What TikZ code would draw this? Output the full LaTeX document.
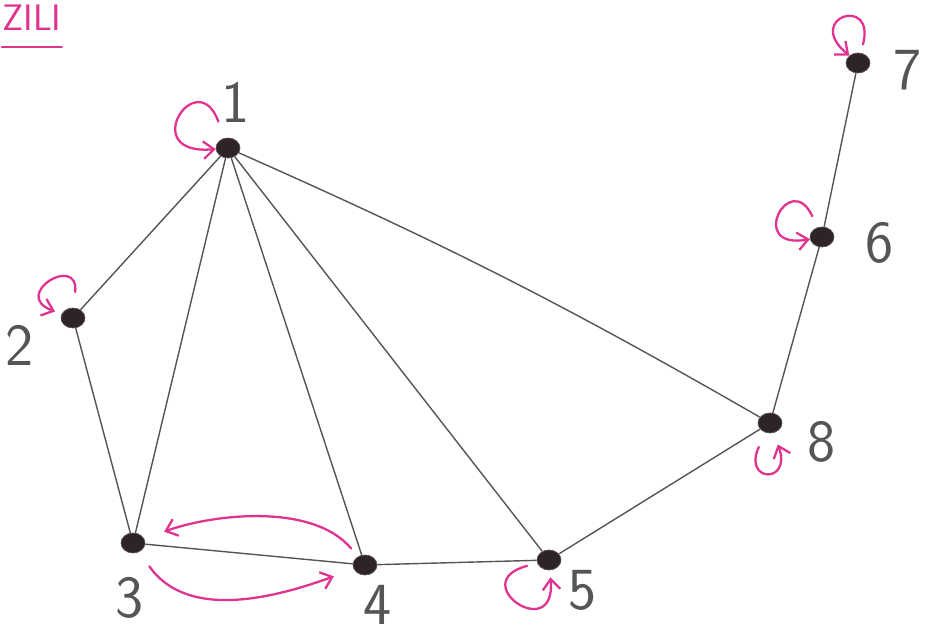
\documentclass[tikz,border=0pt]{standalone}
\definecolor{ziliPink}{HTML}{E0338F}
\definecolor{ziliInk}{HTML}{2E2428}
\definecolor{ziliPencil}{HTML}{555555}
\usepackage{tikz}
\usetikzlibrary{
	arrows.meta,
	shapes.geometric
}

\begin{document}
\begin{tikzpicture}[x=0.02cm, y=0.02cm,
		vertex/.style={ellipse, fill=ziliInk, draw=ziliInk!80, minimum width=0.48cm, minimum height=0.4cm, inner sep=0pt},
		num/.style={text=ziliPencil, inner sep=0pt, font=\sffamily\fontsize{34}{34}\selectfont},
		edgeline/.style={draw=ziliPencil, line width=0.8pt},
		pinkline/.style={draw=ziliPink, line width=1.3pt, line cap=round, -{Straight Barb[length=6pt,width=10pt]}},
		titleline/.style={draw=ziliPink, line width=1.5pt, line cap=round}]
		\useasboundingbox (0,0) rectangle (930,-634);
		% title
		\node[anchor=base west, inner sep=0pt, text=ziliPink, font=\sffamily\fontsize{21}{21}\selectfont] (title) at (2,-31) {ZILI};
		\draw[titleline] ([yshift=-9pt]title.south west) -- ([yshift=-9pt]title.south east);
		% vertices
		\node[vertex] (n1) at (228,-148) {};
		\node[vertex] (n2) at (73,-318) {};
		\node[vertex] (n3) at (133,-543) {};
		\node[vertex] (n4) at (365,-565) {};
		\node[vertex] (n5) at (549,-560) {};
		\node[vertex] (n6) at (822,-237) {};
		\node[vertex] (n7) at (858,-63) {};
		\node[vertex] (n8) at (770,-423) {};
		% numbers
		\node[num] (l1) at (236,-102) {1};
		\node[num] (l2) at (20,-345) {2};
		\node[num] (l3) at (130,-598) {3};
		\node[num] (l4) at (378,-605) {4};
		\node[num] (l5) at (583,-590) {5};
		\node[num] (l6) at (880,-243) {6};
		\node[num] (l7) at (908,-70) {7};
		\node[num] (l8) at (822,-442) {8};
		% edges
		\draw[edgeline] (n1) -- (n2);
		\draw[edgeline] (n1) -- (n3);
		\draw[edgeline] (n1) -- (n4);
		\draw[edgeline] (n1) -- (n5);
		\draw[edgeline] (n1) to[bend left=3] (n8);
		\draw[edgeline] (n2) -- (n3);
		\draw[edgeline] (n3) -- (n4);
		\draw[edgeline] (n4) -- (n5);
		\draw[edgeline] (n5) -- (n8);
		\draw[edgeline] (n8) -- (n6);
		\draw[edgeline] (n6) -- (n7);
		% loops
		\draw[pinkline, shorten <=10pt] (n1) to[out=110, in=185, min distance=1.6cm] (n1);
		\draw[pinkline, shorten <=9pt, shorten >=4pt] (n2) to[out=85, in=160, min distance=1.1cm] (n2);
		\draw[pinkline, shorten <=6pt, shorten >=4pt] (n5) to[out=195, in=275, min distance=1.5cm] (n5);
		\draw[pinkline, shorten <=7pt] (n6) to[out=115, in=190, min distance=1.3cm] (n6);
		\draw[pinkline, shorten <=5pt] (n7) to[out=75, in=140, min distance=1.2cm] (n7);
		\draw[pinkline, shorten <=9pt, shorten >=7pt] (n8) to[out=245, in=290, min distance=1.1cm] (n8);
		% walk 3 <-> 4
		\draw[pinkline, shorten <=6pt, shorten >=12pt] (n4) to[out=130, in=20, looseness=0.85] (n3);
		\draw[pinkline, shorten <=10pt, shorten >=12pt] (n3) to[out=-55, in=200] (n4);
	\end{tikzpicture}
\end{document}
